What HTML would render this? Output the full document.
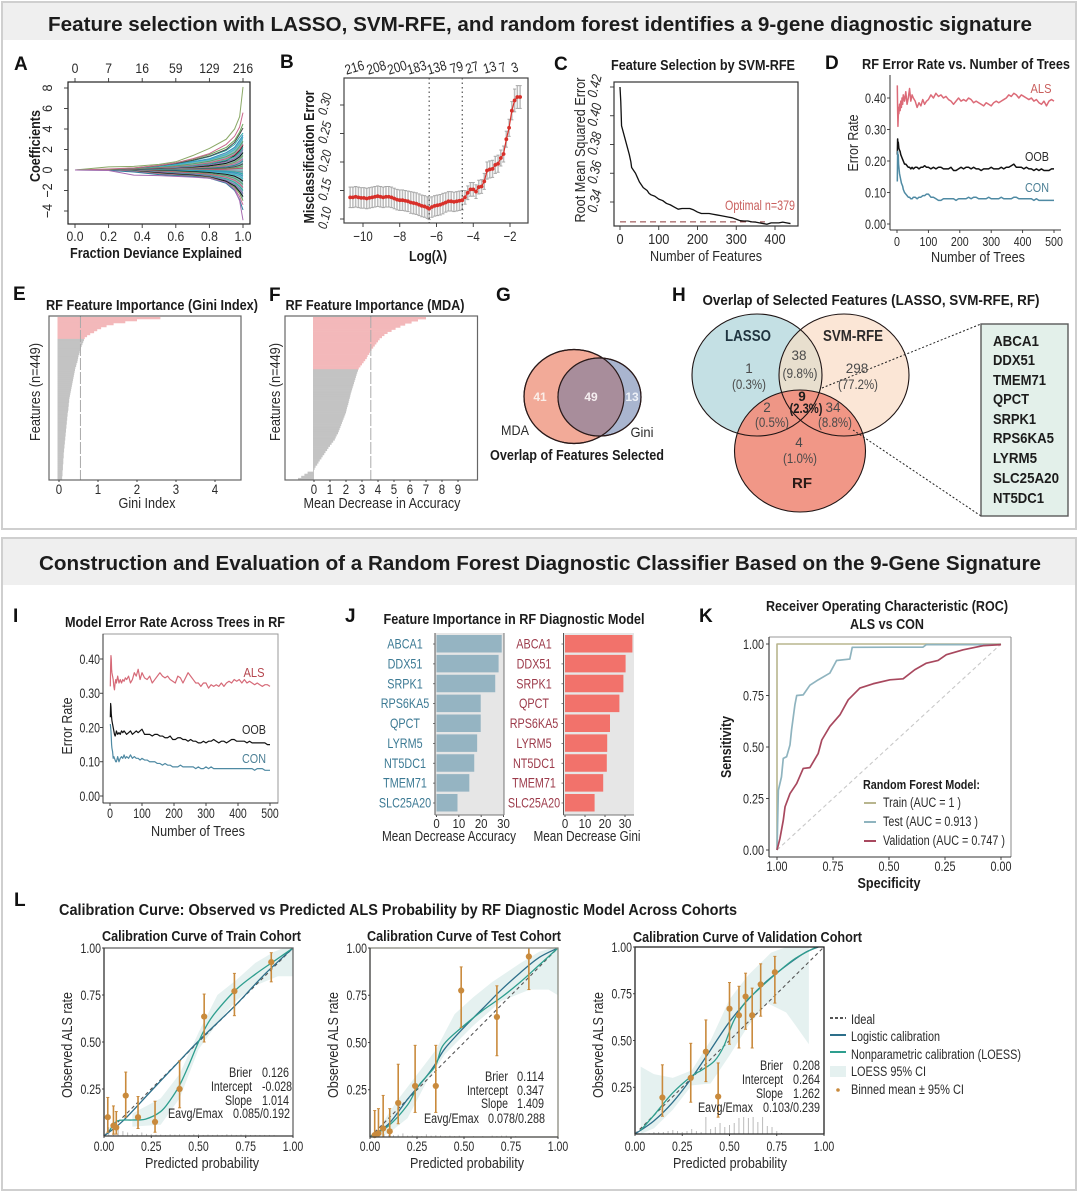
<!DOCTYPE html>
<html lang="en">
<head>
<meta charset="utf-8">
<title>Feature selection and random forest diagnostic classifier figure</title>
<style>
html,body{margin:0;padding:0;background:#fff;}
#figure{display:block;width:1080px;height:1194px;font-family:"Liberation Sans",sans-serif;filter:blur(.3px);}
text{font-family:"Liberation Sans",sans-serif;fill:#2a2a2a;}
.b{font-weight:bold;fill:#1c1c1c;}
.m{text-anchor:middle;}
.e{text-anchor:end;}
.gr{fill:#4a4a4a;}
.letter{font-weight:bold;font-size:19px;fill:#111;}
</style>
</head>
<body>
<svg id="figure" xmlns="http://www.w3.org/2000/svg" width="1080" height="1194" viewBox="0 0 1080 1194">
  <defs>
    <clipPath id="clip-lasso"><ellipse cx="757" cy="375" rx="65" ry="61"/></clipPath>
    <clipPath id="clip-mda"><ellipse cx="574" cy="396.5" rx="50" ry="47"/></clipPath>
  </defs>
  <rect width="1080" height="1194" fill="#fff"/>

  <rect x="2" y="2" width="1074" height="527" fill="#fff" stroke="#cfcfcf" stroke-width="2"/>
  <rect x="3" y="3" width="1072" height="37" fill="#efefef"/>
  <rect x="2" y="538" width="1074" height="652" fill="#fff" stroke="#cfcfcf" stroke-width="2"/>
  <rect x="3" y="539" width="1072" height="46" fill="#efefef"/>

  <rect x="435" y="633" width="69" height="182" fill="#e6e6e6"/>
  <rect x="563.5" y="633" width="70.5" height="182" fill="#e6e6e6"/>

  <g id="marks"></g>

  <g>
    <ellipse cx="574" cy="396.5" rx="50" ry="47" fill="#f2aa98" stroke="#2a1a1a" stroke-width="1.2"/>
    <ellipse cx="599.5" cy="397" rx="41.5" ry="39" fill="#a9b5cf" stroke="#2a1a1a" stroke-width="1.2"/>
    <ellipse cx="599.5" cy="397" rx="41.5" ry="39" fill="#a88d9b" clip-path="url(#clip-mda)"/>
    <ellipse cx="574" cy="396.5" rx="50" ry="47" fill="none" stroke="#2a1a1a" stroke-width="1.2"/>
    <ellipse cx="599.5" cy="397" rx="41.5" ry="39" fill="none" stroke="#2a1a1a" stroke-width="1.2"/>
    <text x="540" y="401" class="m b" font-size="12" style="fill:#fbeee8">41</text>
    <text x="591" y="401" class="m b" font-size="12" style="fill:#f5eef0">49</text>
    <text x="632" y="401" class="m b" font-size="12" style="fill:#eef1f7">13</text>
    <text x="515" y="435" class="m" font-size="14" textLength="28" lengthAdjust="spacingAndGlyphs">MDA</text>
    <text x="642" y="437" class="m" font-size="14" textLength="23" lengthAdjust="spacingAndGlyphs">Gini</text>
  </g>

  <g>
    <ellipse cx="757" cy="375" rx="65" ry="61" fill="#c4e0e4"/>
    <ellipse cx="844" cy="375" rx="65" ry="61" fill="#fbe6d6"/>
    <ellipse cx="844" cy="375" rx="65" ry="61" fill="#e8dfce" clip-path="url(#clip-lasso)"/>
    <ellipse cx="800" cy="451" rx="65.5" ry="61" fill="#f0917f" fill-opacity="0.94"/>
    <ellipse cx="757" cy="375" rx="65" ry="61" fill="none" stroke="#1e1414" stroke-width="1.1"/>
    <ellipse cx="844" cy="375" rx="65" ry="61" fill="none" stroke="#1e1414" stroke-width="1.1"/>
    <ellipse cx="800" cy="451" rx="65.5" ry="61" fill="none" stroke="#1e1414" stroke-width="1.1"/>
    <line x1="822" y1="388" x2="981" y2="324" stroke="#222" stroke-width="1" stroke-dasharray="2 2"/>
    <line x1="853" y1="430" x2="981" y2="516" stroke="#222" stroke-width="1" stroke-dasharray="2 2"/>
    <text x="748" y="341" class="m b" font-size="15.5" textLength="46" lengthAdjust="spacingAndGlyphs" style="fill:#1f3440">LASSO</text>
    <text x="853" y="341" class="m b" font-size="15.5" textLength="60" lengthAdjust="spacingAndGlyphs" style="fill:#2c2a2a">SVM-RFE</text>
    <text x="802" y="488" class="m b" font-size="15" style="fill:#2a1a16">RF</text>
    <g font-size="13.5">
      <text x="749" y="373" class="m gr">1</text>
      <text x="749" y="389" class="m gr" textLength="34" lengthAdjust="spacingAndGlyphs">(0.3%)</text>
      <text x="799" y="360" class="m gr">38</text>
      <text x="800" y="378" class="m gr" textLength="35" lengthAdjust="spacingAndGlyphs">(9.8%)</text>
      <text x="857" y="373" class="m gr">298</text>
      <text x="858" y="389" class="m gr" textLength="40" lengthAdjust="spacingAndGlyphs">(77.2%)</text>
      <text x="802" y="401" class="m b">9</text>
      <text x="806" y="413" class="m b" textLength="33" lengthAdjust="spacingAndGlyphs">(2.3%)</text>
      <text x="833" y="412" class="m gr">34</text>
      <text x="835" y="427" class="m gr" textLength="34" lengthAdjust="spacingAndGlyphs">(8.8%)</text>
      <text x="767" y="412" class="m gr">2</text>
      <text x="772" y="427" class="m gr" textLength="34" lengthAdjust="spacingAndGlyphs">(0.5%)</text>
      <text x="799" y="447" class="m gr">4</text>
      <text x="800" y="463" class="m gr" textLength="34" lengthAdjust="spacingAndGlyphs">(1.0%)</text>
    </g>
    <rect x="981" y="324" width="87" height="192" fill="#e3f0ea" stroke="#5a5a5a" stroke-width="1.4"/>
    <g font-size="15">
      <text class="b" x="993" y="346" textLength="46" lengthAdjust="spacingAndGlyphs">ABCA1</text>
      <text class="b" x="993" y="365" textLength="42" lengthAdjust="spacingAndGlyphs">DDX51</text>
      <text class="b" x="993" y="385" textLength="53" lengthAdjust="spacingAndGlyphs">TMEM71</text>
      <text class="b" x="993" y="404" textLength="36" lengthAdjust="spacingAndGlyphs">QPCT</text>
      <text class="b" x="993" y="424" textLength="43" lengthAdjust="spacingAndGlyphs">SRPK1</text>
      <text class="b" x="993" y="443" textLength="61" lengthAdjust="spacingAndGlyphs">RPS6KA5</text>
      <text class="b" x="993" y="463" textLength="44" lengthAdjust="spacingAndGlyphs">LYRM5</text>
      <text class="b" x="993" y="483" textLength="66" lengthAdjust="spacingAndGlyphs">SLC25A20</text>
      <text class="b" x="993" y="503" textLength="51" lengthAdjust="spacingAndGlyphs">NT5DC1</text>
    </g>
  </g>

  <text x="540" y="31" class="m b" font-size="20" textLength="984" lengthAdjust="spacingAndGlyphs">Feature selection with LASSO, SVM-RFE, and random forest identifies a 9-gene diagnostic signature</text>
  <text x="540" y="570" class="m b" font-size="20" textLength="1002" lengthAdjust="spacingAndGlyphs">Construction and Evaluation of a Random Forest Diagnostic Classifier Based on the 9-Gene Signature</text>

  <text x="14" y="70" class="letter">A</text>
  <text x="280" y="68" class="letter">B</text>
  <text x="554" y="70" class="letter">C</text>
  <text x="825" y="69" class="letter">D</text>
  <text x="13" y="300" class="letter">E</text>
  <text x="269" y="301" class="letter">F</text>
  <text x="496" y="301" class="letter">G</text>
  <text x="672" y="301" class="letter">H</text>
  <text x="13" y="622" class="letter">I</text>
  <text x="345" y="622" class="letter">J</text>
  <text x="699" y="622" class="letter">K</text>
  <text x="14" y="906" class="letter">L</text>

  <text x="156" y="258" class="m b" font-size="15" textLength="172" lengthAdjust="spacingAndGlyphs">Fraction Deviance Explained</text>
  <text transform="translate(40,146) rotate(-90)" class="m b" font-size="15" textLength="72" lengthAdjust="spacingAndGlyphs">Coefficients</text>
  <text x="428" y="261" class="m b" font-size="15" textLength="38" lengthAdjust="spacingAndGlyphs">Log(λ)</text>
  <text transform="translate(314,157) rotate(-90)" class="m b" font-size="15" textLength="133" lengthAdjust="spacingAndGlyphs">Misclassification Error</text>

  <text x="703" y="70" class="m b" font-size="15" textLength="184" lengthAdjust="spacingAndGlyphs">Feature Selection by SVM-RFE</text>
  <text x="706" y="261" class="m" font-size="15" textLength="112" lengthAdjust="spacingAndGlyphs">Number of Features</text>
  <text transform="translate(585,150) rotate(-90)" class="m" font-size="15" textLength="145" lengthAdjust="spacingAndGlyphs">Root Mean Squared Error</text>
  <text x="725" y="210" font-size="14" textLength="70" lengthAdjust="spacingAndGlyphs" style="fill:#c9605e">Optimal n=379</text>

  <text x="966" y="69" class="m b" font-size="15" textLength="208" lengthAdjust="spacingAndGlyphs">RF Error Rate vs. Number of Trees</text>
  <text x="978" y="262" class="m" font-size="15" textLength="94" lengthAdjust="spacingAndGlyphs">Number of Trees</text>
  <text transform="translate(858,143) rotate(-90)" class="m" font-size="15" textLength="57" lengthAdjust="spacingAndGlyphs">Error Rate</text>
  <text x="1041" y="93" class="m" font-size="13" textLength="21" lengthAdjust="spacingAndGlyphs" style="fill:#c9605e">ALS</text>
  <text x="1037" y="161" class="m" font-size="13" textLength="24" lengthAdjust="spacingAndGlyphs">OOB</text>
  <text x="1037" y="192" class="m" font-size="13" textLength="24" lengthAdjust="spacingAndGlyphs" style="fill:#4b7f95">CON</text>

  <text x="152" y="310" class="m b" font-size="15" textLength="212" lengthAdjust="spacingAndGlyphs">RF Feature Importance (Gini Index)</text>
  <text x="147" y="508" class="m" font-size="15" textLength="57" lengthAdjust="spacingAndGlyphs">Gini Index</text>
  <text transform="translate(40,392) rotate(-90)" class="m" font-size="15" textLength="98" lengthAdjust="spacingAndGlyphs">Features (n=449)</text>
  <text x="375" y="310" class="m b" font-size="15" textLength="179" lengthAdjust="spacingAndGlyphs">RF Feature Importance (MDA)</text>
  <text x="382" y="508" class="m" font-size="15" textLength="157" lengthAdjust="spacingAndGlyphs">Mean Decrease in Accuracy</text>
  <text transform="translate(280,392) rotate(-90)" class="m" font-size="15" textLength="98" lengthAdjust="spacingAndGlyphs">Features (n=449)</text>

  <text x="577" y="460" class="m b" font-size="14.5" textLength="174" lengthAdjust="spacingAndGlyphs">Overlap of Features Selected</text>
  <text x="871" y="305" class="m b" font-size="15" textLength="337" lengthAdjust="spacingAndGlyphs">Overlap of Selected Features (LASSO, SVM-RFE, RF)</text>

  <text x="175" y="627" class="m b" font-size="15" textLength="220" lengthAdjust="spacingAndGlyphs">Model Error Rate Across Trees in RF</text>
  <text x="198" y="836" class="m" font-size="15" textLength="94" lengthAdjust="spacingAndGlyphs">Number of Trees</text>
  <text transform="translate(72,726) rotate(-90)" class="m" font-size="15" textLength="57" lengthAdjust="spacingAndGlyphs">Error Rate</text>
  <text x="254" y="677" class="m" font-size="13" textLength="21" lengthAdjust="spacingAndGlyphs" style="fill:#b5474f">ALS</text>
  <text x="254" y="734" class="m" font-size="13" textLength="24" lengthAdjust="spacingAndGlyphs">OOB</text>
  <text x="254" y="763" class="m" font-size="13" textLength="24" lengthAdjust="spacingAndGlyphs" style="fill:#4b7f95">CON</text>

  <text x="514" y="624" class="m b" font-size="15" textLength="261" lengthAdjust="spacingAndGlyphs">Feature Importance in RF Diagnostic Model</text>
  <text x="449" y="841" class="m" font-size="14.5" textLength="134" lengthAdjust="spacingAndGlyphs">Mean Decrease Accuracy</text>
  <text x="587" y="841" class="m" font-size="14.5" textLength="107" lengthAdjust="spacingAndGlyphs">Mean Decrease Gini</text>

  <text x="887" y="611" class="m b" font-size="14.5" textLength="242" lengthAdjust="spacingAndGlyphs">Receiver Operating Characteristic (ROC)</text>
  <text x="887" y="629" class="m b" font-size="14.5" textLength="74" lengthAdjust="spacingAndGlyphs">ALS vs CON</text>
  <text x="889" y="888" class="m b" font-size="14.5" textLength="63" lengthAdjust="spacingAndGlyphs">Specificity</text>
  <text transform="translate(731,747) rotate(-90)" class="m b" font-size="14.5" textLength="62" lengthAdjust="spacingAndGlyphs">Sensitivity</text>
  <g>
    <text x="863" y="789" class="b" font-size="13" textLength="117" lengthAdjust="spacingAndGlyphs">Random Forest Model:</text>
    <line x1="864" y1="803" x2="876" y2="803" stroke="#b8b58e" stroke-width="2"/>
    <line x1="864" y1="822" x2="876" y2="822" stroke="#8fb4bf" stroke-width="2"/>
    <line x1="864" y1="841" x2="876" y2="841" stroke="#a8485e" stroke-width="2"/>
    <text x="883" y="807" font-size="13.5" textLength="78" lengthAdjust="spacingAndGlyphs">Train (AUC = 1 )</text>
    <text x="883" y="826" font-size="13.5" textLength="95" lengthAdjust="spacingAndGlyphs">Test (AUC = 0.913 )</text>
    <text x="883" y="845" font-size="13.5" textLength="122" lengthAdjust="spacingAndGlyphs">Validation (AUC = 0.747 )</text>
  </g>

  <text x="398" y="915" class="m b" font-size="15.5" textLength="678" lengthAdjust="spacingAndGlyphs">Calibration Curve: Observed vs Predicted ALS Probability by RF Diagnostic Model Across Cohorts</text>

  <text x="201.5" y="941" class="m b" font-size="14.5" textLength="199" lengthAdjust="spacingAndGlyphs">Calibration Curve of Train Cohort</text>
  <text x="202" y="1168" class="m" font-size="15" textLength="114" lengthAdjust="spacingAndGlyphs">Predicted probability</text>
  <text transform="translate(72,1045) rotate(-90)" class="m" font-size="15" textLength="106" lengthAdjust="spacingAndGlyphs">Observed ALS rate</text>
  <g font-size="13.5">
    <text x="252" y="1077" class="e" textLength="23" lengthAdjust="spacingAndGlyphs">Brier</text>
    <text x="262" y="1077" textLength="27" lengthAdjust="spacingAndGlyphs">0.126</text>
    <text x="252" y="1091" class="e" textLength="41" lengthAdjust="spacingAndGlyphs">Intercept</text>
    <text x="262" y="1091" textLength="30" lengthAdjust="spacingAndGlyphs">-0.028</text>
    <text x="252" y="1105" class="e" textLength="27" lengthAdjust="spacingAndGlyphs">Slope</text>
    <text x="262" y="1105" textLength="27" lengthAdjust="spacingAndGlyphs">1.014</text>
    <text x="223" y="1118" class="e" textLength="55" lengthAdjust="spacingAndGlyphs">Eavg/Emax</text>
    <text x="233" y="1118" textLength="57" lengthAdjust="spacingAndGlyphs">0.085/0.192</text>
  </g>

  <text x="464" y="941" class="m b" font-size="14.5" textLength="194" lengthAdjust="spacingAndGlyphs">Calibration Curve of Test Cohort</text>
  <text x="467" y="1168" class="m" font-size="15" textLength="114" lengthAdjust="spacingAndGlyphs">Predicted probability</text>
  <text transform="translate(338,1045) rotate(-90)" class="m" font-size="15" textLength="106" lengthAdjust="spacingAndGlyphs">Observed ALS rate</text>
  <g font-size="13.5">
    <text x="508" y="1081" class="e" textLength="23" lengthAdjust="spacingAndGlyphs">Brier</text>
    <text x="517" y="1081" textLength="27" lengthAdjust="spacingAndGlyphs">0.114</text>
    <text x="508" y="1095" class="e" textLength="41" lengthAdjust="spacingAndGlyphs">Intercept</text>
    <text x="517" y="1095" textLength="27" lengthAdjust="spacingAndGlyphs">0.347</text>
    <text x="508" y="1108" class="e" textLength="27" lengthAdjust="spacingAndGlyphs">Slope</text>
    <text x="517" y="1108" textLength="27" lengthAdjust="spacingAndGlyphs">1.409</text>
    <text x="479" y="1123" class="e" textLength="55" lengthAdjust="spacingAndGlyphs">Eavg/Emax</text>
    <text x="488" y="1123" textLength="57" lengthAdjust="spacingAndGlyphs">0.078/0.288</text>
  </g>

  <text x="747.5" y="942" class="m b" font-size="14.5" textLength="229" lengthAdjust="spacingAndGlyphs">Calibration Curve of Validation Cohort</text>
  <text x="730" y="1168" class="m" font-size="15" textLength="114" lengthAdjust="spacingAndGlyphs">Predicted probability</text>
  <text transform="translate(603,1045) rotate(-90)" class="m" font-size="15" textLength="106" lengthAdjust="spacingAndGlyphs">Observed ALS rate</text>
  <g font-size="13.5">
    <text x="783" y="1070" class="e" textLength="23" lengthAdjust="spacingAndGlyphs">Brier</text>
    <text x="793" y="1070" textLength="27" lengthAdjust="spacingAndGlyphs">0.208</text>
    <text x="783" y="1084" class="e" textLength="41" lengthAdjust="spacingAndGlyphs">Intercept</text>
    <text x="793" y="1084" textLength="27" lengthAdjust="spacingAndGlyphs">0.264</text>
    <text x="783" y="1098" class="e" textLength="27" lengthAdjust="spacingAndGlyphs">Slope</text>
    <text x="793" y="1098" textLength="27" lengthAdjust="spacingAndGlyphs">1.262</text>
    <text x="753" y="1112" class="e" textLength="55" lengthAdjust="spacingAndGlyphs">Eavg/Emax</text>
    <text x="763" y="1112" textLength="57" lengthAdjust="spacingAndGlyphs">0.103/0.239</text>
  </g>

  <g>
    <line x1="830" y1="1018" x2="846" y2="1018" stroke="#555" stroke-width="2" stroke-dasharray="3 2"/>
    <line x1="830" y1="1035" x2="846" y2="1035" stroke="#2d6f8a" stroke-width="2"/>
    <line x1="830" y1="1052" x2="846" y2="1052" stroke="#2e9e8e" stroke-width="2"/>
    <rect x="830" y="1066" width="16" height="11" fill="#e5f1f0"/>
    <circle cx="838" cy="1090" r="1.8" fill="#c98a3c"/>
    <text x="851" y="1024" font-size="13.5" textLength="24" lengthAdjust="spacingAndGlyphs">Ideal</text>
    <text x="851" y="1041" font-size="13.5" textLength="89" lengthAdjust="spacingAndGlyphs">Logistic calibration</text>
    <text x="851" y="1059" font-size="13.5" textLength="170" lengthAdjust="spacingAndGlyphs">Nonparametric calibration (LOESS)</text>
    <text x="851" y="1076" font-size="13.5" textLength="75" lengthAdjust="spacingAndGlyphs">LOESS 95% CI</text>
    <text x="851" y="1094" font-size="13.5" textLength="113" lengthAdjust="spacingAndGlyphs">Binned mean ± 95% CI</text>
  </g>
</svg>

<script>
/* ---------- Panel A: LASSO coefficient paths ---------- */
const coefFractions = [0,.2,.35,.5,.6,.7,.8,.9,.95,.98,1];
const coefTopFractions = [0,.2,.4,.6,.8,1];
const coefTopLabels = ['0','7','16','59','129','216'];
const coefXTicks = [0,.2,.4,.6,.8,1];
const coefXLabels = ['0.0','0.2','0.4','0.6','0.8','1.0'];
const coefYTicks = [8,6,4,2,0,-2,-4];
const coefYLabels = ['8','6','4','2','0','−2','−4'];
const coefBandUpper = [0,.02,.12,.38,.6,.85,1.1,1.7,2.3,3,3.4];
const coefBandLower = [0,0,-.12,-.34,-.46,-.56,-.72,-1.2,-1.7,-2.3,-3];
const coefPaths = [
 [0,.02,.12,.38,.6,.9,1.3,1.9,2.5,3.2,3.6],
 [0,0,.1,.35,.55,.8,1.1,1.7,2.2,2.9,3.4],
 [0,0,.1,.3,.5,.75,1,1.5,2,2.6,3.2],
 [0,0,.05,.15,.2,.3,.5,.9,1.4,1.9,2.4],
 [0,0,.08,.25,.4,.6,.85,1.3,1.7,2.3,2.8],
 [0,0,.04,.18,.3,.45,.7,1.1,1.5,2,2.5],
 [0,0,.03,.12,.25,.4,.6,.95,1.3,1.7,2.2],
 [0,0,.02,.1,.2,.32,.5,.8,1.1,1.5,2],
 [0,0,.02,.08,.15,.25,.4,.65,.95,1.3,1.7],
 [0,0,.01,.05,.12,.2,.3,.5,.75,1.1,1.4],
 [0,0,.01,.04,.1,.15,.25,.42,.6,.85,1.1],
 [0,0,0,.03,.06,.1,.18,.3,.45,.65,.9],
 [0,0,0,.02,.04,.07,.12,.2,.32,.45,.6],
 [0,0,0,.01,.02,.04,.07,.12,.2,.3,.4],
 [0,0,0,0,.01,.02,.04,.07,.12,.16,.2],
 [0,0,0,0,0,-.01,-.03,-.06,-.1,-.15,-.2],
 [0,0,0,-.01,-.02,-.03,-.06,-.12,-.2,-.28,-.4],
 [0,0,0,-.02,-.04,-.08,-.12,-.2,-.3,-.42,-.6],
 [0,0,0,-.03,-.07,-.12,-.18,-.3,-.45,-.6,-.85],
 [0,0,-.01,-.05,-.1,-.16,-.25,-.42,-.6,-.85,-1.1],
 [0,0,-.02,-.08,-.14,-.22,-.33,-.55,-.8,-1.1,-1.4],
 [0,0,-.03,-.12,-.2,-.3,-.42,-.7,-1,-1.35,-1.7],
 [0,0,-.05,-.18,-.28,-.38,-.52,-.85,-1.2,-1.6,-2],
 [0,0,-.08,-.22,-.34,-.44,-.6,-1,-1.4,-1.85,-2.3],
 [0,0,-.1,-.28,-.4,-.5,-.68,-1.1,-1.55,-2.1,-2.6],
 [0,0,-.12,-.34,-.46,-.56,-.72,-1.2,-1.7,-2.3,-3],
 [0,0,-.14,-.38,-.5,-.6,-.78,-1.25,-1.85,-2.6,-3.4],
 [0,-.02,-.2,-.45,-.55,-.62,-.8,-1.3,-2,-2.9,-3.9],
 [0,.02,.18,.42,.65,.95,1.35,2,2.7,3.5,4.1],
 [0,.05,.2,.45,.7,1.05,1.5,2.2,2.9,3.7,4.5],
 [0,.1,.2,.45,.7,1.1,1.6,2.5,3.3,4.2,5.6],
 [0,.3,.35,.55,.8,1.4,2.1,3,4,5.2,8.1],
 [0,-.05,-.5,-.55,-.62,-.7,-.8,-1.2,-1.9,-3,-4.9]
];

/* ---------- Panel B: CV misclassification ---------- */
const lassoLogLambda = [-10.7,-10.55,-10.4,-10.25,-10.1,-9.95,-9.8,-9.65,-9.5,-9.35,-9.2,-9.05,-8.9,-8.75,-8.6,-8.45,-8.3,-8.15,-8,-7.85,-7.7,-7.55,-7.4,-7.25,-7.1,-6.95,-6.8,-6.65,-6.5,-6.4,-6.25,-6.1,-5.95,-5.8,-5.65,-5.5,-5.35,-5.2,-5.05,-4.9,-4.75,-4.6,-4.45,-4.3,-4.15,-4,-3.85,-3.7,-3.55,-3.4,-3.25,-3.1,-2.95,-2.8,-2.65,-2.5,-2.35,-2.2,-2.05,-1.9,-1.75,-1.6,-1.45];
const lassoError = [.138,.138,.139,.138,.137,.137,.136,.137,.138,.139,.14,.139,.138,.139,.139,.138,.136,.134,.133,.133,.132,.131,.129,.128,.127,.125,.123,.122,.12,.118,.121,.123,.124,.125,.127,.129,.131,.131,.13,.131,.132,.133,.138,.146,.152,.152,.148,.156,.157,.166,.185,.187,.188,.195,.197,.207,.214,.24,.26,.29,.308,.314,.314];
const lassoSe = [.018,.018,.018,.018,.018,.018,.018,.018,.018,.018,.018,.018,.018,.018,.018,.018,.018,.018,.018,.018,.018,.018,.019,.019,.019,.019,.019,.019,.019,.019,.018,.018,.018,.018,.018,.017,.017,.017,.017,.017,.017,.017,.012,.012,.012,.012,.012,.012,.012,.014,.015,.015,.015,.015,.015,.014,.014,.014,.015,.016,.02,.02,.02];
const lassoXTicks = [-10,-8,-6,-4,-2];
const lassoXLabels = ['−10','−8','−6','−4','−2'];
const lassoYTicks = [.1,.15,.2,.25,.3];
const lassoYLabels = ['0.10','0.15','0.20','0.25','0.30'];
const lassoTopLambda = [-10.34,-9.15,-8.02,-6.95,-5.86,-4.78,-3.94,-2.98,-2.28,-1.62];
const lassoTopLabels = ['216','208','200','183','138','79','27','13','7','3'];
const lassoMinLines = [-6.4,-4.6];

/* ---------- Panel C: SVM-RFE ---------- */
const rfeFeatures = [0,2,4,8,12,16,20,24,28,30,35,40,45,50,55,60,70,75,80,90,100,110,120,130,140,150,160,170,180,190,200,210,220,230,240,250,260,270,280,290,300,310,320,330,340,350,360,370,379,390,400,410,420,430,440];
const rfeError = [.42,.41,.393,.389,.385,.381,.377,.373,.368,.364,.362,.36,.357,.354,.352,.35,.348,.346,.345,.344,.342,.341,.339,.338,.3365,.335,.3355,.3355,.3355,.3345,.333,.332,.332,.332,.3315,.331,.3305,.33,.3295,.329,.328,.327,.3268,.3268,.3262,.326,.3255,.325,.3245,.3255,.3255,.3255,.326,.3255,.325];
const rfeOptimal = [.3262];
const rfeXTicks = [0,100,200,300,400];
const rfeXLabels = ['0','100','200','300','400'];
const rfeYTicks = [.34,.36,.38,.4,.42];
const rfeYLabels = ['0.34','0.36','0.38','0.40','0.42'];

/* ---------- Panels D and I: RF error curves ---------- */
const trees = [1,2,3,4,5,6,8,10,12,14,16,18,20,24,28,32,36,40,44,48,52,58,64,70,76,82,88,94,100,108,116,124,132,140,148,156,164,172,180,188,196,204,212,220,228,236,244,252,260,268,276,284,292,300,308,316,324,332,340,348,356,364,372,380,388,396,404,412,420,428,436,444,452,460,468,476,484,492,500];
const dAls = [.44,.36,.31,.34,.37,.35,.38,.36,.39,.37,.40,.38,.41,.39,.42,.38,.40,.43,.39,.41,.40,.39,.37,.385,.375,.395,.38,.39,.395,.41,.40,.415,.405,.41,.40,.405,.395,.39,.38,.39,.40,.39,.395,.39,.40,.395,.385,.39,.385,.38,.375,.385,.38,.375,.385,.39,.385,.39,.395,.40,.41,.405,.415,.41,.40,.41,.405,.40,.395,.40,.39,.395,.385,.38,.39,.375,.39,.395,.39];
const dOob = [.22,.27,.25,.26,.25,.24,.235,.23,.22,.215,.21,.205,.20,.19,.19,.185,.18,.18,.175,.18,.175,.18,.18,.175,.18,.18,.185,.18,.18,.175,.18,.175,.18,.18,.175,.175,.175,.18,.17,.17,.175,.18,.175,.18,.18,.175,.18,.175,.175,.17,.175,.175,.175,.18,.175,.175,.175,.18,.175,.18,.18,.185,.19,.18,.18,.18,.175,.18,.175,.175,.17,.175,.17,.175,.17,.17,.17,.175,.175];
const dCon = [.135,.23,.21,.22,.19,.18,.16,.15,.14,.13,.125,.12,.11,.10,.095,.09,.085,.085,.08,.08,.085,.085,.08,.085,.085,.09,.09,.095,.095,.085,.085,.08,.075,.075,.08,.08,.08,.08,.08,.075,.08,.08,.08,.08,.085,.08,.085,.085,.08,.08,.08,.08,.085,.08,.08,.08,.08,.085,.08,.08,.08,.08,.085,.085,.08,.08,.08,.08,.08,.08,.075,.08,.075,.075,.075,.075,.075,.075,.075];
const iAls = [.32,.38,.41,.40,.37,.36,.35,.34,.32,.31,.33,.34,.33,.35,.33,.34,.33,.34,.335,.345,.34,.35,.33,.34,.36,.35,.37,.34,.36,.345,.34,.35,.33,.34,.35,.36,.35,.345,.35,.34,.335,.33,.35,.345,.33,.345,.36,.35,.34,.33,.33,.32,.33,.33,.315,.325,.32,.325,.32,.33,.32,.33,.335,.33,.34,.335,.34,.33,.34,.33,.335,.33,.325,.33,.325,.32,.325,.325,.32];
const iOob = [.23,.27,.26,.24,.23,.22,.21,.20,.19,.18,.175,.18,.19,.18,.185,.18,.19,.185,.19,.185,.18,.185,.19,.18,.185,.19,.185,.19,.195,.18,.18,.18,.175,.18,.18,.175,.175,.17,.17,.175,.165,.165,.17,.17,.165,.165,.16,.165,.16,.16,.155,.155,.16,.155,.16,.16,.165,.16,.155,.16,.16,.155,.16,.165,.165,.16,.16,.16,.16,.155,.16,.155,.155,.155,.155,.155,.155,.15,.15];
const iCon = [.21,.20,.19,.17,.15,.14,.13,.11,.115,.11,.105,.10,.10,.115,.10,.11,.115,.11,.12,.11,.115,.11,.12,.11,.115,.11,.11,.105,.11,.105,.105,.10,.10,.10,.095,.095,.09,.095,.09,.09,.085,.085,.085,.09,.085,.085,.085,.085,.085,.08,.085,.08,.08,.085,.08,.085,.08,.08,.08,.08,.08,.08,.08,.08,.08,.08,.08,.08,.08,.08,.08,.08,.075,.08,.08,.08,.075,.075,.075];
const errXTicks = [0,100,200,300,400,500];
const errXLabels = ['0','100','200','300','400','500'];
const errYTicks = [0,.1,.2,.3,.4];
const errYLabels = ['0.00','0.10','0.20','0.30','0.40'];

/* ---------- Panels E and F: sorted feature importance ---------- */
const giniSelected = [2.6,2.0,1.7,1.4,1.22,1.08,.98,.9,.8,.72,.66];
const giniOther = [.64,.62,.6,.58,.56,.54,.53,.52,.50,.49,.48,.47,.45,.44,.42,.41,.40,.39,.38,.37,.36,.35,.34,.33,.32,.31,.30,.29,.28,.27,.26,.26,.25,.25,.24,.24,.23,.22,.22,.21,.21,.2,.2,.19,.19,.18,.18,.17,.17,.16,.16,.15,.15,.14,.14,.13,.13,.12,.12,.12,.11,.11,.11,.1,.1,.1,.09,.09,.09,.08,.08];
const giniCutoff = [.55];
const giniTicks = [0,1,2,3,4];
const mdaSelected = [7.0,6.5,6.1,5.7,5.4,5.1,4.85,4.6,4.4,4.25,4.1,4.0,3.9,3.8,3.7,3.6,3.5,3.45,3.35,3.3,3.2,3.1,3.0,2.9,2.8];
const mdaOther = [2.75,2.7,2.66,2.62,2.58,2.54,2.5,2.46,2.42,2.38,2.34,2.3,2.27,2.24,2.2,2.17,2.14,2.1,2.06,2.03,2.0,1.95,1.9,1.85,1.8,1.75,1.7,1.65,1.6,1.55,1.5,1.42,1.36,1.3,1.2,1.1,1.0,.9,.82,.72,.64,.54,.46,.36,.28,.2,.1,.04,-.06,-.4,-.6,-.8,-1.0];
const mdaCutoff = [3.55];
const mdaTicks = [0,1,2,3,4,5,6,7,8,9];

/* ---------- Panel J: importance bars ---------- */
const accGenes = ['ABCA1','DDX51','SRPK1','RPS6KA5','QPCT','LYRM5','NT5DC1','TMEM71','SLC25A20'];
const accValues = [29.2,27.8,26.3,19.8,19.8,18.2,16.9,14.7,9.4];
const giniGenes = ['ABCA1','DDX51','SRPK1','QPCT','RPS6KA5','LYRM5','NT5DC1','TMEM71','SLC25A20'];
const giniValues = [33.7,30.3,29.2,27.2,22.5,21.1,20.9,19.1,14.8];
const jTicks = [0,10,20,30];

/* ---------- Panel K: ROC ---------- */
const rocTrainSpec = [1,1,0];
const rocTrainSens = [0,1,1];
const rocTestSpec = [1,.994,.98,.972,.957,.942,.935,.92,.912,.883,.853,.816,.764,.734,.675,.664,.348,.333,0];
const rocTestSens = [0,.29,.355,.445,.453,.51,.583,.705,.75,.753,.80,.826,.859,.92,.927,.984,.985,.997,.997];
const rocValSpec = [1,.987,.972,.964,.942,.912,.883,.853,.816,.80,.764,.719,.682,.63,.571,.496,.437,.385,.333,.281,.244,.169,.08,0];
const rocValSens = [0,.055,.144,.21,.274,.323,.396,.40,.469,.534,.60,.656,.729,.786,.807,.826,.831,.875,.907,.92,.948,.972,.992,.997];
const rocTicks = [0,.25,.5,.75,1];
const rocXLabels = ['0.00','0.25','0.50','0.75','1.00'];

/* ---------- Panel L: calibration cohorts ---------- */
const calXTicks = [0,.25,.5,.75,1];
const calXLabels = ['0.00','0.25','0.50','0.75','1.00'];
const calYTicks = [.25,.5,.75,1];
const calYLabels = ['0.25','0.50','0.75','1.00'];

const trainBinX = [.02,.05,.065,.115,.18,.27,.40,.53,.69,.885];
const trainBinY = [.10,.055,.045,.215,.10,.075,.25,.635,.77,.925];
const trainBinLo = [.02,.01,.01,.10,.04,.02,.15,.50,.64,.82];
const trainBinHi = [.205,.16,.13,.34,.21,.185,.40,.755,.865,.975];
const trainLogisticX = [0,.1,.25,.4,.5,.7,.85,1];
const trainLogisticY = [0,.08,.24,.40,.505,.70,.86,1];
const trainLoessX = [.03,.07,.15,.22,.3,.35,.4,.45,.5,.55,.6,.7,.8,.9,1];
const trainLoessY = [.03,.08,.085,.09,.13,.19,.27,.38,.50,.60,.67,.78,.86,.93,1];
const trainBandX = [.15,.3,.4,.5,.6,.7,.8,.9,.95,1,1,.92,.8,.7,.6,.5,.4,.3,.15];
const trainBandY = [.12,.2,.33,.55,.75,.83,.92,.98,1,1,.85,.85,.8,.72,.6,.46,.2,.06,.05];
const trainRug = [20,25,22,18,14,10,6,5,10,6,5,4,4,3,5,4,5,4,3,5,5,3,4,3,4,3,5,4,3,4,4,3,3,3,3,3,3,0,0,0];

const testBinX = [.025,.045,.07,.105,.15,.24,.35,.485,.675,.845];
const testBinY = [.01,.02,.045,.03,.18,.27,.27,.775,.635,.955];
const testBinLo = [0,0,0,0,.07,.13,.13,.58,.43,.78];
const testBinHi = [.14,.15,.22,.15,.385,.485,.485,.90,.80,1];
const testLogisticX = [0,.1,.2,.3,.35,.4,.5,.6,.7,.8,.9,1];
const testLogisticY = [0,.07,.2,.32,.39,.47,.58,.68,.78,.87,.95,1];
const testLoessX = [0,.1,.2,.25,.3,.35,.38,.42,.5,.6,.7,.8,.9,1];
const testLoessY = [0,.06,.17,.26,.32,.38,.47,.52,.59,.67,.74,.82,.91,1];
const testBandX = [.05,.15,.25,.35,.45,.55,.65,.8,.9,.97,1,1,.95,.85,.7,.55,.4,.3,.2,.1,.05];
const testBandY = [.05,.2,.33,.46,.65,.74,.82,.92,.98,1,1,.75,.78,.78,.72,.59,.44,.29,.1,.02,0];
const testRug = [8,12,14,6,5,4,5,8,3,4,3,2,6,3,4,3,2,3,2,3,2,1,2,1,2,1,3,2,3,3,1,2,0,0,0,0,0,0,0,0];

const valBinX = [.145,.295,.375,.44,.50,.55,.585,.62,.665,.74];
const valBinY = [.195,.30,.44,.20,.67,.635,.735,.635,.80,.865];
const valBinLo = [.095,.17,.28,.09,.48,.46,.56,.46,.63,.70];
const valBinHi = [.37,.485,.61,.38,.81,.79,.86,.78,.91,.95];
const valLogisticX = [0,.1,.2,.3,.4,.5,.6,.7,.8,.9,.97];
const valLogisticY = [0,.07,.17,.30,.45,.60,.72,.82,.90,.97,1];
const valLoessX = [.03,.1,.2,.3,.35,.42,.47,.52,.58,.65,.75,.85,.96];
const valLoessY = [.02,.10,.22,.31,.34,.39,.47,.60,.70,.77,.86,.94,1];
const valBandX = [.03,.1,.2,.3,.4,.5,.6,.72,.8,.92,.92,.85,.8,.7,.6,.5,.4,.3,.2,.1,.03];
const valBandY = [.36,.32,.30,.34,.50,.72,.85,.97,1,1,.48,.58,.65,.70,.58,.42,.27,.26,.13,.03,0];
const valRug = [0,0,0,1,2,2,2,3,4,3,2,3,5,3,2,17,5,7,11,7,9,11,16,17,16,17,12,17,8,7,3,1,0,0,0,0,0,0,0,0];

/* ---------- Drawing helpers ---------- */
const NS = 'http://www.w3.org/2000/svg';
const marks = document.getElementById('marks');

function mk(tag, name, attrs, parent) {
  const el = document.createElementNS(NS, tag);
  
  
  for (const k in attrs) { el.setAttribute(k, attrs[k]); }
  (parent || marks).appendChild(el);
  return el;
}
function linear(d0, d1, r0, r1) {
  return function (v) { return r0 + (v - d0) / (d1 - d0) * (r1 - r0); };
}
function label(name, x, y, str, size, anchor, sx, rot, fill, style) {
  const el = mk('text', name, {
    transform: 'translate(' + x + ',' + y + ') rotate(' + (rot || 0) + ') scale(' + (sx || 1) + ',1)',
    'text-anchor': anchor || 'middle',
    'font-size': size
  });
  if (fill) { el.style.fill = fill; }
  if (style) { el.setAttribute('font-style', style); }
  el.textContent = str;
  return el;
}
function seg(name, x1, y1, x2, y2, stroke, w, dash) {
  const a = { x1: x1, y1: y1, x2: x2, y2: y2, stroke: stroke || '#333', 'stroke-width': w || 0.9 };
  if (dash) { a['stroke-dasharray'] = dash; }
  return mk('line', name, a);
}
function pathD(xs, ys, sx, sy) {
  let d = '';
  for (let i = 0; i < xs.length && i < ys.length; i++) {
    d += (i ? 'L' : 'M') + sx(xs[i]).toFixed(2) + ' ' + sy(ys[i]).toFixed(2);
  }
  return d;
}
function smoothD(xs, ys, sx, sy) {
  const p = xs.map(function (x, i) { return [sx(x), sy(ys[i])]; });
  let d = 'M' + p[0][0].toFixed(2) + ' ' + p[0][1].toFixed(2);
  for (let i = 0; i < p.length - 1; i++) {
    const a = p[Math.max(i - 1, 0)], b = p[i], c = p[i + 1], e = p[Math.min(i + 2, p.length - 1)];
    d += 'C' + (b[0] + (c[0] - a[0]) / 6).toFixed(2) + ' ' + (b[1] + (c[1] - a[1]) / 6).toFixed(2) + ' ' +
      (c[0] - (e[0] - b[0]) / 6).toFixed(2) + ' ' + (c[1] - (e[1] - b[1]) / 6).toFixed(2) + ' ' +
      c[0].toFixed(2) + ' ' + c[1].toFixed(2);
  }
  return d;
}
function line(name, xs, ys, sx, sy, stroke, w, extra) {
  const a = { d: pathD(xs, ys, sx, sy), fill: 'none', stroke: stroke, 'stroke-width': w, 'stroke-linejoin': 'round' };
  for (const k in (extra || {})) { a[k] = extra[k]; }
  return mk('path', name, a);
}
function box(name, x0, y0, x1, y1, stroke, w) {
  return mk('rect', name, { x: x0, y: y0, width: x1 - x0, height: y1 - y0, fill: 'none', stroke: stroke || '#333', 'stroke-width': w || 1.1 });
}
function xAxis(prefix, vals, labs, sx, axisY, len, labelY, size, tsx) {
  vals.forEach(function (v, i) {
    seg(prefix + '-tick', sx(v), axisY, sx(v), axisY + len);
    label(prefix + '-label', sx(v), labelY, labs[i], size, 'middle', tsx);
  });
}
function yAxis(prefix, vals, labs, sy, axisX, len, labelX, size, opts) {
  const o = opts || {};
  vals.forEach(function (v, i) {
    seg(prefix + '-tick', axisX - len, sy(v), axisX, sy(v));
    if (o.rot !== undefined) {
      label(prefix + '-label', labelX, sy(v), labs[i], size, 'middle', o.sx, o.rot, null, o.style);
    } else {
      label(prefix + '-label', labelX, sy(v) + size * 0.36, labs[i], size, 'end', o.sx);
    }
  });
}

/* ---------- Panel A ---------- */
(function () {
  const sx = linear(0, 1, 75, 243), sy = linear(8, -4, 88, 211);
  const upper = pathD(coefFractions, coefBandUpper, sx, sy);
  const lower = pathD(coefFractions.slice().reverse(), coefBandLower.slice().reverse(), sx, sy).replace('M', 'L');
  mk('path', 'coefficient-band', { d: upper + lower + 'Z', fill: '#3d8f9a', 'fill-opacity': .6 });
  const palette = ['#2aa7a8', '#3b8fc4', '#3fb6c8', '#111111', '#5b9f6a', '#d25a78', '#33a89a', '#8a6fb0', '#111111', '#7aa05a', '#c76a9a', '#2e7f9a', '#4a4a4a', '#6aa85a', '#c04f6a', '#7f8f9f'];
  coefPaths.forEach(function (vals, i) {
    const isGreen = i === coefPaths.length - 2;
    const isPurple = i === coefPaths.length - 1;
    const isRose = i === coefPaths.length - 3;
    const color = isGreen ? '#8aa866' : isPurple ? '#a66bb0' : isRose ? '#c7688a' : palette[i % palette.length];
    line('coefficient-path', coefFractions, vals, sx, sy, color, 1);
  });
  box('panel-a-frame', 68, 82, 250, 224, '#222', 1.2);
  xAxis('a-x-tick', coefXTicks, coefXLabels, sx, 224, 4, 241, 14, .87);
  yAxis('a-y-tick', coefYTicks, coefYLabels, sy, 68, 4, 52, 14, { rot: -90, sx: .9 });
  coefTopFractions.forEach(function (v, i) {
    seg('a-top-tick', sx(v), 78, sx(v), 82);
    label('a-top-label', sx(v), 73, coefTopLabels[i], 14, 'middle', .87);
  });
})();

/* ---------- Panel B ---------- */
(function () {
  const sx = linear(-10, -2, 363, 510), sy = linear(.1, .3, 219, 105);
  lassoLogLambda.forEach(function (lam, i) {
    const x = sx(lam), hi = sy(lassoError[i] + lassoSe[i]), lo = sy(lassoError[i] - lassoSe[i]);
    seg('error-bar', x, hi, x, lo, '#bcbcbc', 1.5);
    seg('error-bar-cap', x - 1.6, hi, x + 1.6, hi, '#a8a8a8', 1);
    seg('error-bar-cap', x - 1.6, lo, x + 1.6, lo, '#a8a8a8', 1);
  });
  lassoMinLines.forEach(function (lam) {
    seg('lambda-reference-line', sx(lam), 78, sx(lam), 223, '#333', 1, '1.5 3');
  });
  line('error-line', lassoLogLambda, lassoError, sx, sy, '#d8302a', 1.2);
  lassoLogLambda.forEach(function (lam, i) {
    mk('circle', 'error-point', { cx: sx(lam), cy: sy(lassoError[i]), r: 1.9, fill: '#d8302a' });
  });
  box('panel-b-frame', 344, 78, 528, 223, '#444', 1.2);
  xAxis('b-x-tick', lassoXTicks, lassoXLabels, sx, 223, 4, 241, 14, .82);
  yAxis('b-y-tick', lassoYTicks, lassoYLabels, sy, 344, 4, 329, 13, { rot: -76, sx: .88, style: 'italic' });
  lassoTopLambda.forEach(function (lam, i) {
    label('b-top-label', sx(lam) - 1, 72, lassoTopLabels[i], 14, 'middle', .84, -16);
  });
})();

/* ---------- Panel C ---------- */
(function () {
  const sx = linear(0, 400, 620, 775), sy = linear(.34, .42, 202, 87);
  seg('optimal-reference-line', 620, sy(rfeOptimal[0]), 765, sy(rfeOptimal[0]), '#8e3b3b', 1, '6 4');
  line('rfe-error-line', rfeFeatures, rfeError, sx, sy, '#111', 1.3);
  box('panel-c-frame', 614, 82, 798, 226, '#333', 1.2);
  xAxis('c-x-tick', rfeXTicks, rfeXLabels, sx, 226, 4, 244, 15, .85);
  yAxis('c-y-tick', rfeYTicks, rfeYLabels, sy, 614, 4, 599, 14, { rot: -76, sx: .85, style: 'italic' });
})();

/* ---------- Panel D ---------- */
(function () {
  const sx = linear(0, 500, 897, 1054), sy = linear(0, .4, 224, 98);
  line('d-line-als', trees, dAls, sx, sy, '#dc6b78', 1.5);
  line('d-line-oob', trees, dOob, sx, sy, '#111', 1.5);
  line('d-line-con', trees, dCon, sx, sy, '#4f8aa3', 1.5);
  seg('d-y-axis', 890, 75, 890, 230, '#333', 1);
  seg('d-x-axis', 890, 230, 1061, 230, '#333', 1);
  xAxis('d-x-tick', errXTicks, errXLabels, sx, 230, 3, 246, 13, .82);
  yAxis('d-y-tick', errYTicks, errYLabels, sy, 890, 3, 886, 13.5, { sx: .8 });
})();

/* ---------- Panels E and F ---------- */
function importance(prefix, selected, other, cutoff, ticks, sx, base, x0, x1) {
  const top = 317, bottom = 480;
  const total = selected.length + other.length;
  const step = (bottom - top) / total;
  function bar(v, i, color, name) {
    const a = sx(Math.min(v, 0)), b = sx(Math.max(v, 0));
    const left = v >= 0 ? base : a;
    mk('rect', name, { x: left, y: top + i * step, width: Math.max(b - left, .5), height: step + .3, fill: color });
  }
  selected.forEach(function (v, i) { bar(v, i, '#f3b8ba', prefix + '-selected-bar'); });
  other.forEach(function (v, i) { bar(v, selected.length + i, '#c3c3c3', prefix + '-other-bar'); });
  seg(prefix + '-cutoff-line', sx(cutoff[0]), 316, sx(cutoff[0]), 480, '#aaa', 1, '12 2');
  box(prefix + '-frame', x0, 316, x1, 480, '#666', 1.2);
  const labs = ticks.map(function (t) { return String(t); });
  xAxis(prefix + '-x-tick', ticks, labs, sx, 480, 2, 494, 13.5, .85);
}
importance('e', giniSelected, giniOther, giniCutoff, giniTicks, linear(0, 4, 59, 215), 57.5, 49, 241);
importance('f', mdaSelected, mdaOther, mdaCutoff, mdaTicks, linear(0, 9, 314, 458), 313, 285, 477.5);

/* ---------- Panel I ---------- */
(function () {
  const sx = linear(0, 500, 110, 270), sy = linear(0, .4, 796, 659);
  line('i-line-als', trees, iAls, sx, sy, '#d66a78', 1.2);
  line('i-line-oob', trees, iOob, sx, sy, '#111', 1.2);
  line('i-line-con', trees, iCon, sx, sy, '#4f8aa3', 1.2);
  box('panel-i-frame', 103, 634, 278, 803, '#999', 1);
  seg('i-y-axis', 103, 634, 103, 803, '#333', 1);
  seg('i-x-axis', 103, 803, 278, 803, '#333', 1);
  xAxis('i-x-tick', errXTicks, errXLabels, sx, 803, 3, 818, 13.5, .78);
  yAxis('i-y-tick', errYTicks, errYLabels, sy, 103, 3, 100, 13.5, { sx: .78 });
})();

/* ---------- Panel J ---------- */
function importanceBars(prefix, genes, values, sx, labelX, axisX, barColor, textColor) {
  const sy = linear(0, 8, 644, 803);
  const labs = jTicks.map(function (t) { return String(t); });
  genes.forEach(function (g, i) {
    mk('rect', prefix + '-bar', { x: sx(0), y: sy(i) - 9, width: sx(values[i]) - sx(0), height: 17.5, fill: barColor });
    seg(prefix + '-y-tick', axisX - 2, sy(i), axisX, sy(i), '#555', .8);
    label(prefix + '-gene-label', labelX, sy(i) + 4.5, g, 13.5, 'middle', .8, 0, textColor);
  });
  xAxis(prefix + '-x-tick', jTicks, labs, sx, 815, 2, 828, 13, .88);
}
importanceBars('j-left', accGenes, accValues, linear(0, 30, 436.5, 503.5), 405, 435, '#95b4c2', '#3c7a94');
importanceBars('j-right', giniGenes, giniValues, linear(0, 30, 565, 625), 534, 563.5, '#f2726b', '#9c3a4a');
seg('j-left-axis', 435, 633, 435, 815, '#555', 1);
seg('j-right-axis', 563.5, 633, 563.5, 815, '#555', 1);
seg('j-left-edge', 504, 633, 504, 815, '#555', .8);
seg('j-left-baseline', 435, 815, 504, 815, '#777', 1);
seg('j-right-baseline', 563.5, 815, 634, 815, '#777', 1);

/* ---------- Panel K ---------- */
(function () {
  const sx = linear(1, 0, 777, 1001), sy = linear(0, 1, 850, 644);
  seg('roc-diagonal', sx(1), sy(0), sx(0), sy(1), '#c8c8c8', 1.1, '4 3');
  line('roc-train', rocTrainSpec, rocTrainSens, sx, sy, '#b8b58e', 1.6);
  line('roc-test', rocTestSpec, rocTestSens, sx, sy, '#8fb4bf', 1.7);
  line('roc-validation', rocValSpec, rocValSens, sx, sy, '#a8485e', 1.7);
  seg('k-top-border', 769, 637, 1011, 637, '#bbb', 1.5);
  seg('k-right-border', 1011, 637, 1011, 857, '#888', 1);
  seg('k-y-axis', 769, 637, 769, 857, '#333', 1.1);
  seg('k-x-axis', 769, 857, 1011, 857, '#333', 1.1);
  xAxis('k-x-tick', rocTicks, rocXLabels, linear(0, 1, 1001, 777), 857, 3, 871, 13.5, .8);
  yAxis('k-y-tick', rocTicks, rocXLabels, sy, 769, 3, 764, 13.5, { sx: .8 });
})();

/* ---------- Panel L ---------- */
function calibration(prefix, x0, x1, y0, y1, bx, by, lo, hi, lx, ly, nx, ny, bandX, bandY, rug, rugScale, frameColor) {
  const sx = linear(0, 1, x0, x1), sy = linear(0, 1, y1, y0);
  mk('path', prefix + '-ci-band', { d: pathD(bandX, bandY, sx, sy) + 'Z', fill: '#e5f1f0' });
  rug.forEach(function (c, i) {
    if (c > 0) {
      seg(prefix + '-rug', sx(i / 40), y1, sx(i / 40), y1 - c * rugScale, '#bbb', 1);
    }
  });
  seg(prefix + '-ideal-line', x0, y1, x1, y0, '#555', 1.1, '3.5 3');
  mk('path', prefix + '-logistic-curve', { d: smoothD(lx, ly, sx, sy), fill: 'none', stroke: '#2d6f8a', 'stroke-width': 1.3 });
  mk('path', prefix + '-loess-curve', { d: smoothD(nx, ny, sx, sy), fill: 'none', stroke: '#2e9e8e', 'stroke-width': 1.3 });
  bx.forEach(function (x, i) {
    seg(prefix + '-bin-ci', sx(x), sy(lo[i]), sx(x), sy(hi[i]), '#c98a3c', 1.6);
    seg(prefix + '-bin-cap', sx(x) - 1.5, sy(lo[i]), sx(x) + 1.5, sy(lo[i]), '#c98a3c', 1);
    seg(prefix + '-bin-cap', sx(x) - 1.5, sy(hi[i]), sx(x) + 1.5, sy(hi[i]), '#c98a3c', 1);
    mk('circle', prefix + '-bin-point', { cx: sx(x), cy: sy(by[i]), r: 3.1, fill: '#c98a3c' });
  });
  box(prefix + '-frame', x0, y0, x1, y1, frameColor, 1.3);
  seg(prefix + '-y-axis', x0, y0, x0, y1, '#333', 1.1);
  seg(prefix + '-x-axis', x0, y1, x1, y1, '#333', 1.1);
  xAxis(prefix + '-x-tick', calXTicks, calXLabels, sx, y1, 2, 1151, 13.5, .78);
  yAxis(prefix + '-y-tick', calYTicks, calYLabels, sy, x0, 2, x0 - 3, 13.5, { sx: .78 });
}
calibration('train', 104, 293, 948, 1136, trainBinX, trainBinY, trainBinLo, trainBinHi, trainLogisticX, trainLogisticY, trainLoessX, trainLoessY, trainBandX, trainBandY, trainRug, .35, '#666');
calibration('test', 370, 558, 948, 1137, testBinX, testBinY, testBinLo, testBinHi, testLogisticX, testLogisticY, testLoessX, testLoessY, testBandX, testBandY, testRug, .45, '#8a8a80');
calibration('validation', 635, 824, 947, 1134, valBinX, valBinY, valBinLo, valBinHi, valLogisticX, valLogisticY, valLoessX, valLoessY, valBandX, valBandY, valRug, 1, '#222');
</script>
</body>
</html>
